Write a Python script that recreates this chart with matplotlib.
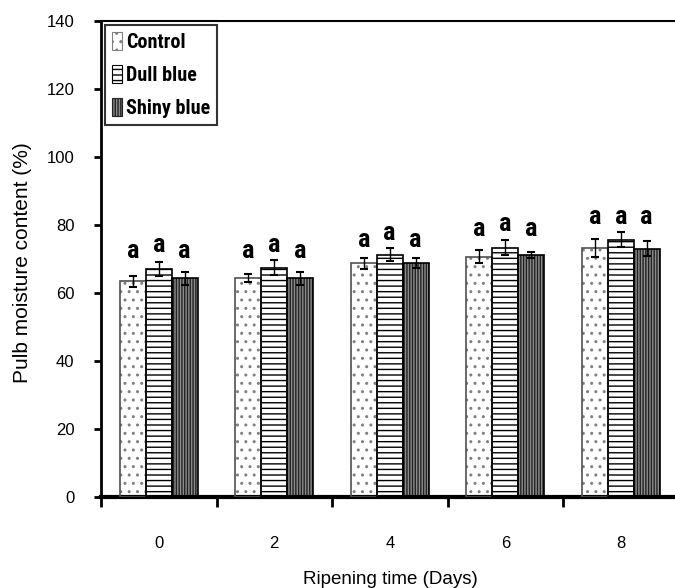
import matplotlib
matplotlib.use("Agg")
import matplotlib.pyplot as plt
import numpy as np
from matplotlib.patches import Patch

days = ["0", "2", "4", "6", "8"]
series = ["Control", "Dull blue", "Shiny blue"]
control = [63.4, 64.4, 68.7, 70.7, 73.3]
dull = [67.1, 67.4, 71.2, 73.3, 75.6]
shiny = [64.4, 64.3, 68.9, 71.2, 73.0]
control_err = [1.6, 1.1, 1.5, 1.9, 2.7]
dull_err = [2.0, 2.2, 1.9, 2.2, 2.2]
shiny_err = [1.9, 2.0, 1.4, 0.9, 2.2]
letters = ["a", "a", "a"]
letter_y = [
    [68.7, 68.7, 72.0, 75.4, 78.9],
    [70.7, 70.7, 74.0, 76.9, 78.9],
    [68.7, 68.7, 72.0, 75.4, 78.9],
]

NARROW = ["Roboto Condensed", "Archivo Narrow", "PT Sans Narrow", "Oswald",
          "DejaVu Sans"]
SANS = ["Liberation Sans", "DejaVu Sans"]

W, H = 675, 588
fig = plt.figure(figsize=(W / 100, H / 100), dpi=100)
ax = fig.add_axes([101 / W, 91 / H, 577.5 / W, 476 / H])

values = [control, dull, shiny]
errs = [control_err, dull_err, shiny_err]
styles = [
    dict(face="white", hatch="..", hcol="#808080", edge="#505050"),
    dict(face="white", hatch="---", hcol="black", edge="black"),
    dict(face="#8c8c8c", hatch="||||||", hcol="#222222", edge="black"),
]
bw = 0.225
x = np.arange(len(days))
for k in range(3):
    pos = x + (k - 1) * bw
    st = styles[k]
    ax.bar(pos, values[k], bw, color=st["face"], hatch=st["hatch"],
           edgecolor=st["hcol"], linewidth=0, zorder=2)
    ax.bar(pos, values[k], bw, fill=False, edgecolor=st["edge"],
           linewidth=1.2, zorder=3)
    ax.errorbar(pos, values[k], yerr=errs[k], fmt="none", ecolor="black",
                elinewidth=1, capsize=3, capthick=1.5, zorder=4)
    for i in range(len(days)):
        ax.text(pos[i], letter_y[k][i], letters[k], ha="center", va="bottom",
                fontsize=19, fontweight="bold", family=NARROW, zorder=5)

ax.set_xlim(-0.5, 4.5)
ax.set_ylim(0, 140)
ax.set_yticks(np.arange(0, 141, 20))
ax.set_xticks(x)
ax.set_xticklabels(days)
ax.set_xticks(np.arange(-0.5, 4.6, 1), minor=True)
ax.tick_params(axis="x", which="major", length=0, pad=28, labelsize=12)
ax.tick_params(axis="x", which="minor", length=7, width=2, direction="out")
ax.tick_params(axis="y", length=5, width=2, direction="out", pad=14, labelsize=12)
for lab in ax.get_xticklabels() + ax.get_yticklabels():
    lab.set_family(SANS)

ax.spines["left"].set_linewidth(2)
ax.spines["bottom"].set_linewidth(3)
ax.spines["top"].set_linewidth(1.5)
ax.spines["right"].set_visible(False)

ax.set_ylabel("Pulb moisture content (%)", fontsize=15, family=SANS)
ax.yaxis.set_label_coords(-(101 - 22) / 577.5, (497 - 263) / 476)
ax.yaxis.label.set_va("center")
ax.set_xlabel("Ripening time (Days)", fontsize=13.5, family=SANS)
ax.xaxis.set_label_coords((390 - 101) / 577.5, -(580 - 497) / 476)
ax.xaxis.label.set_va("center")

handles = [Patch(facecolor=s["face"], hatch=s["hatch"], edgecolor=s["hcol"],
                 linewidth=0.8) for s in styles]
leg = fig.legend(handles, series, loc="upper left",
                 bbox_to_anchor=(105 / W, 1 - 25 / H),
                 bbox_transform=fig.transFigure, borderaxespad=0,
                 handlelength=0.5, handleheight=1.0, handletextpad=0.2,
                 labelspacing=0.65, borderpad=0.35, fancybox=False,
                 prop=dict(family=NARROW, weight="bold", size=14.5))
leg.get_frame().set_edgecolor("black")
leg.get_frame().set_linewidth(1.5)

fig.savefig("out.png", dpi=100)
